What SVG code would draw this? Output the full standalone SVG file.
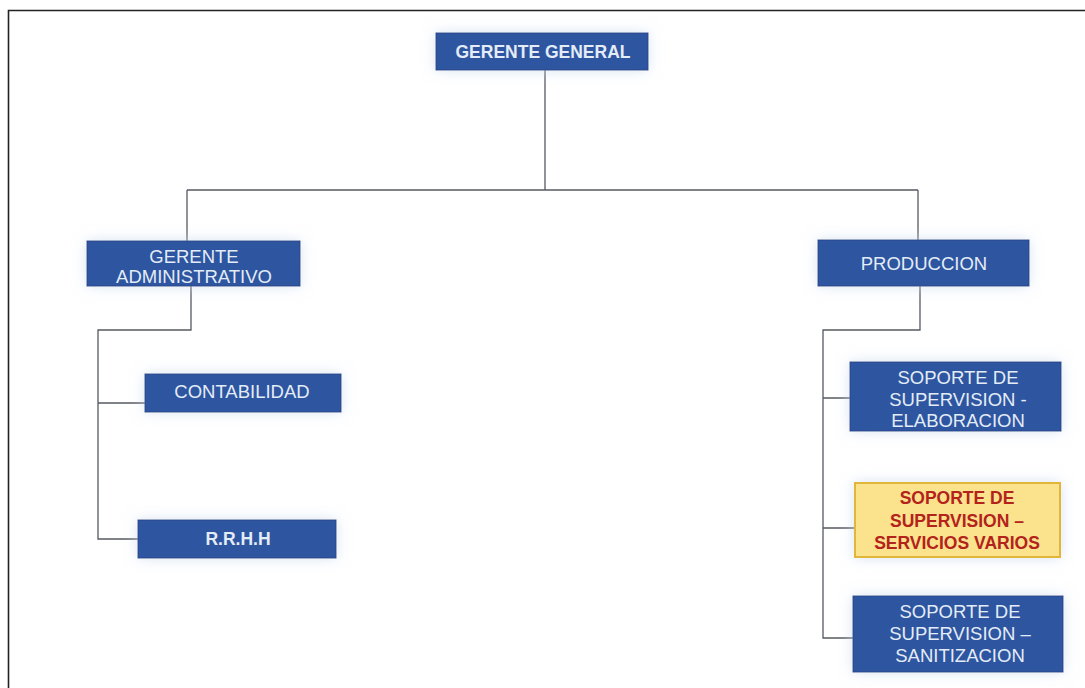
<svg xmlns="http://www.w3.org/2000/svg" width="1085" height="688" viewBox="0 0 1085 688">
<defs>
<filter id="glow" x="-20%" y="-40%" width="140%" height="180%">
<feGaussianBlur in="SourceAlpha" stdDeviation="7" result="b"/>
<feFlood flood-color="#c9d9ee" flood-opacity="0.7"/>
<feComposite in2="b" operator="in" result="g"/>
<feMerge><feMergeNode in="g"/><feMergeNode in="SourceGraphic"/></feMerge>
</filter>
<style>
.box{fill:#2d55a0;stroke:#26498c;stroke-width:1;filter:url(#glow)}
.hl{fill:#fbe28c;stroke:#e2b63a;stroke-width:2;filter:url(#glow)}
.t{font-family:"Liberation Sans",Arial,sans-serif;font-size:18.5px;fill:#e3ecf7;text-anchor:middle}
.b{font-weight:bold;font-size:17.5px}
.r{fill:#b3221b;font-weight:bold;font-size:17.5px}
.c{fill:none;stroke:#555a60;stroke-width:1.3}
</style>
</defs>
<rect x="0" y="0" width="1085" height="688" fill="#ffffff"/>
<path d="M8.5 688 V10.5 H1085" fill="none" stroke="#222" stroke-width="1.6"/>
<g id="connectors" class="c">
<path class="c" d="M545 70 V190 M187 190 H918 M187 190 V241 M918 190 V240"/>
<path class="c" d="M191 286 V330 H98 V539 H138 M98 403 H145"/>
<path class="c" d="M920 286 V330 H823 V638 H853 M823 398 H850 M823 528 H855"/>
</g>
<g id="gerente-general">
<rect class="box" x="436" y="33" width="212" height="37"/>
<text class="t b" x="543" y="58">GERENTE GENERAL</text>
</g>
<g id="gerente-administrativo">
<rect class="box" x="87" y="241" width="213" height="45"/>
<text class="t" x="194" y="263">GERENTE</text>
<text class="t" x="194" y="283">ADMINISTRATIVO</text>
</g>
<g id="contabilidad">
<rect class="box" x="145" y="374" width="196" height="38"/>
<text class="t" x="242" y="398">CONTABILIDAD</text>
</g>
<g id="rrhh">
<rect class="box" x="138" y="520" width="198" height="38"/>
<text class="t b" x="238" y="545">R.R.H.H</text>
</g>
<g id="produccion">
<rect class="box" x="818" y="240" width="211" height="46"/>
<text class="t" x="924" y="270">PRODUCCION</text>
</g>
<g id="elaboracion">
<rect class="box" x="850" y="362" width="211" height="69"/>
<text class="t" x="958" y="384">SOPORTE DE</text>
<text class="t" x="958" y="406">SUPERVISION -</text>
<text class="t" x="958" y="427">ELABORACION</text>
</g>
<g id="servicios-varios">
<rect class="hl" x="855" y="483" width="205" height="74"/>
<text class="t r" x="957" y="504">SOPORTE DE</text>
<text class="t r" x="957" y="527">SUPERVISION –</text>
<text class="t r" x="957" y="549">SERVICIOS VARIOS</text>
</g>
<g id="sanitizacion">
<rect class="box" x="853" y="596" width="210" height="76"/>
<text class="t" x="960" y="618">SOPORTE DE</text>
<text class="t" x="960" y="640">SUPERVISION –</text>
<text class="t" x="960" y="662">SANITIZACION</text>
</g>
</svg>
